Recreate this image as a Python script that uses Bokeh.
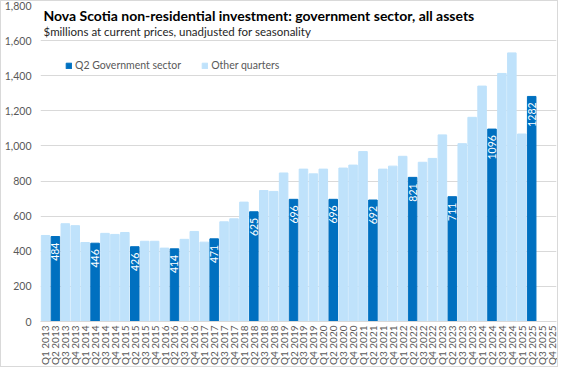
from math import pi
from bokeh.plotting import figure
from bokeh.models import (ColumnDataSource, FactorRange, Range1d, NumeralTickFormatter,
                          Label, Legend, LegendItem, SingleIntervalTicker, LabelSet)
from bokeh.embed import file_html
from bokeh.resources import INLINE
from bokeh.core.properties import value

# ---- data ----
years = list(range(2013, 2026))
quarters = [f"Q{q} {y}" for y in years for q in (1, 2, 3, 4)]

# $millions, Q1 2013 .. Q2 2025
investment = [
    490, 484, 557, 546,      # 2013
    450, 446, 502, 496,      # 2014
    507, 426, 457, 457,      # 2015
    418, 414, 468, 513,      # 2016
    452, 471, 568, 585,      # 2017
    680, 625, 746, 741,      # 2018
    846, 696, 868, 841,      # 2019
    868, 696, 874, 891,      # 2020
    968, 692, 868, 885,      # 2021
    941, 821, 907, 929,      # 2022
    1063, 711, 1013, 1163,   # 2023
    1341, 1096, 1413, 1530,  # 2024
    1068, 1282,              # 2025
]

title_text = "Nova Scotia non-residential  investment: government sector, all assets"
subtitle_text = "$millions at current prices, unadjusted for seasonality"
legend_q2 = "Q2 Government sector"
legend_other = "Other quarters"

# ---- styling ----
FONT = "Lato"
DARK = "#0070C0"
LIGHT = "#BFE2FB"
GRID = "#D9D9D9"
TXT = "#595959"

q2_x = [q for q, v in zip(quarters, investment) if q.startswith("Q2")]
q2_y = [v for q, v in zip(quarters, investment) if q.startswith("Q2")]
ot_x = [q for q, v in zip(quarters, investment) if not q.startswith("Q2")]
ot_y = [v for q, v in zip(quarters, investment) if not q.startswith("Q2")]

src_q2 = ColumnDataSource(dict(x=q2_x, y=q2_y, label=[str(v) for v in q2_y]))
src_ot = ColumnDataSource(dict(x=ot_x, y=ot_y))

p = figure(width=558, height=367, x_range=FactorRange(*quarters, range_padding=0),
           y_range=Range1d(0, 1800), output_backend="svg", toolbar_location=None,
           min_border_left=29, min_border_right=3, min_border_top=4, min_border_bottom=0)
p.styles = {"border": "1px solid #D9D9D9"}
p.outline_line_color = None
p.background_fill_color = "white"

r_ot = p.vbar(x="x", top="y", width=0.86, source=src_ot, color=LIGHT)
r_q2 = p.vbar(x="x", top="y", width=0.86, source=src_q2, color=DARK)

labels = LabelSet(x="x", y="y", text="label", source=src_q2, angle=pi / 2,
                  text_align="right", text_baseline="middle", y_offset=-6,
                  text_color="white", text_font=value(FONT), text_font_size="10.5px")
p.add_layout(labels)

p.yaxis.ticker = SingleIntervalTicker(interval=200, num_minor_ticks=0)
p.yaxis.formatter = NumeralTickFormatter(format="0,0")
p.yaxis.axis_line_color = None
p.yaxis.major_tick_line_color = None
p.yaxis.minor_tick_line_color = None
p.yaxis.major_tick_out = 0
p.yaxis.major_tick_in = 0
p.yaxis.major_label_text_color = TXT
p.yaxis.major_label_text_font = FONT
p.yaxis.major_label_text_font_size = "10.5px"
p.yaxis.major_label_standoff = 9

p.xaxis.axis_line_color = GRID
p.xaxis.major_tick_line_color = None
p.xaxis.minor_tick_line_color = None
p.xaxis.major_tick_out = 0
p.xaxis.major_tick_in = 0
p.xaxis.major_label_orientation = pi / 2
p.xaxis.major_label_text_color = TXT
p.xaxis.major_label_text_font = FONT
p.xaxis.major_label_text_font_size = "10px"
p.xaxis.major_label_standoff = 4

p.xgrid.grid_line_color = None
p.ygrid.grid_line_color = GRID

p.add_layout(Label(x=0.3, y=1745, text=title_text, text_font=FONT, text_font_style="bold",
                   text_font_size="14px", text_color="#000000", text_baseline="middle"))
p.add_layout(Label(x=0.3, y=1650, text=subtitle_text, text_font=FONT,
                   text_font_size="11.5px", text_color="#262626", text_baseline="middle"))

legend = Legend(items=[LegendItem(label=legend_q2, renderers=[r_q2]),
                       LegendItem(label=legend_other, renderers=[r_ot])],
                orientation="horizontal", location=(25, 250), glyph_width=7, glyph_height=7,
                label_standoff=3, spacing=20, padding=0, margin=0,
                label_text_font=FONT, label_text_font_size="10.5px", label_text_color=TXT,
                background_fill_alpha=0, border_line_color=None)
p.add_layout(legend, "center")

open("out.html", "w").write(file_html(p, INLINE))
